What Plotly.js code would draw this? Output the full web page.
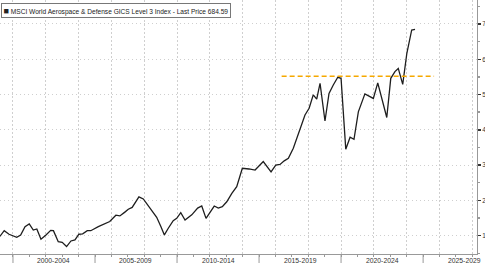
<!DOCTYPE html>
<html>
<head>
<meta charset="utf-8">
<script src="https://cdn.plot.ly/plotly-3.0.1.min.js"></script>
<style>html,body{margin:0;padding:0;background:#fff;}#chart{width:485px;height:263px;}</style>
</head>
<body>
<div id="chart"></div>
<script>
// Index level (hundreds)
const dates = [
'1999-03-15','1999-06-20','1999-10-05','2000-03-25','2000-06-20','2000-09-25','2000-12-28',
'2001-03-28','2001-06-15','2001-09-15','2002-01-05','2002-04-20','2002-06-20','2002-10-05',
'2003-01-01','2003-04-08','2003-07-15','2003-10-12','2004-01-08','2004-04-01','2004-07-12',
'2004-09-28','2005-03-15','2005-11-25','2006-04-10','2006-07-08','2006-10-20','2007-01-12',
'2007-04-08','2007-09-05','2007-12-12','2008-05-08','2008-10-05','2009-01-08','2009-03-25',
'2009-06-20','2009-10-08','2009-12-25','2010-03-25','2010-06-28','2010-11-25','2011-04-05',
'2011-07-05','2011-10-08','2012-01-05','2012-04-08','2012-07-08','2012-10-05','2013-01-12',
'2013-05-05','2013-08-22','2013-12-25','2014-05-22','2014-10-05','2015-04-05','2015-09-25',
'2016-01-08','2016-04-12','2016-07-15','2016-10-15','2017-02-02','2017-05-25','2017-08-08',
'2017-10-20','2018-01-20','2018-04-22','2018-07-08','2018-09-20','2019-01-08','2019-04-08',
'2019-07-12','2019-10-20','2020-01-01','2020-04-15','2020-07-20','2020-10-15','2021-01-20',
'2021-06-15','2021-12-20','2022-03-28','2022-10-15','2023-01-12','2023-04-15','2023-06-28',
'2023-10-05','2024-01-05','2024-04-22','2024-07-05'
];
const values = [
0.98,1.14,1.04,0.955,1.02,1.255,1.33,
1.16,1.19,0.90,1.02,1.15,1.14,0.83,
0.81,0.69,0.85,0.88,1.04,1.05,1.14,
1.14,1.255,1.40,1.58,1.56,1.66,1.75,
1.80,2.10,2.04,1.79,1.52,1.255,1.02,
1.21,1.425,1.49,1.65,1.445,1.59,1.78,
1.84,1.49,1.68,1.84,1.78,1.82,1.96,
2.20,2.39,2.91,2.89,2.86,3.10,2.81,
3.00,3.02,3.12,3.19,3.48,3.90,4.14,
4.42,4.61,4.99,4.87,5.32,4.25,5.03,
5.27,5.49,5.46,3.45,3.79,3.73,4.51,
5.02,4.89,5.33,4.35,5.46,5.65,5.74,
5.29,6.17,6.83,6.85
];
// Dashed reference level
const refDates = ['2016-05-18','2025-09-02'];
const refValues = [5.52,5.52];
// Period labels on the time axis
const periodStarts = [2000,2005,2010,2015,2020,2025];
const periodLabels = ['2000-2004','2005-2009','2010-2014','2015-2019','2020-2024','2025-2029'];
const yTicks = [1,2,3,4,5,6,7];
const legendText = 'MSCI World Aerospace & Defense GICS Level 3 Index - Last Price 684.59';

const FONT = 'Liberation Sans, Arial, sans-serif';
const GRID = '#cfcfcf';

const traces = [
  {x: dates, y: values, type: 'scatter', mode: 'lines',
   line: {color: '#1e1e1e', width: 1.3}, hoverinfo: 'skip'},
  {x: refDates, y: refValues, type: 'scatter', mode: 'lines',
   line: {color: '#f5a800', width: 1.5, dash: '5px,3px'}, hoverinfo: 'skip'}
];

const annotations = periodLabels.map((t, i) => ({
  x: (periodStarts[i] + 2) + '-07-02', xref: 'x', y: 0, yref: 'paper',
  yanchor: 'top', xanchor: 'center', yshift: -0.5, showarrow: false,
  text: t, font: {family: FONT, size: 6.8, color: '#333'}
}));
annotations.push({
  x: 0, xref: 'paper', y: 1, yref: 'paper', xanchor: 'left', yanchor: 'top',
  xshift: 1, yshift: -2.5, showarrow: false, align: 'left',
  text: '<span style="font-size:9px">■</span> ' + legendText,
  font: {family: FONT, size: 6.6, color: '#222'},
  bgcolor: '#fff', bordercolor: '#777', borderwidth: 1, borderpad: 1.5
});

const shapes = periodStarts.map(y => ({
  type: 'line', xref: 'x', yref: 'paper', x0: y + '-01-01', x1: y + '-01-01',
  y0: 0, y1: -0.04, line: {color: '#999', width: 1}
}));

const layout = {
  width: 485, height: 263,
  margin: {l: 0, r: 8, t: 0, b: 9, pad: 0},
  paper_bgcolor: '#fff', plot_bgcolor: '#fff',
  showlegend: false,
  font: {family: FONT, size: 6.5, color: '#333'},
  xaxis: {
    type: 'date', range: ['1999-03-18', '2028-04-15'],
    tick0: '2000-01-01', dtick: 'M24', showticklabels: false,
    ticks: 'outside', ticklen: 2, tickcolor: '#999',
    showgrid: true, gridcolor: GRID, griddash: '1.5px,2.5px', gridwidth: 1,
    showline: true, linecolor: '#999', linewidth: 1, zeroline: false,
    minor: {dtick: 'M12', ticks: 'outside', ticklen: 2, tickcolor: '#999', showgrid: false}
  },
  yaxis: {
    side: 'right', range: [0.48, 7.68], tickvals: yTicks,
    ticks: 'outside', ticklen: 3, tickwidth: 1.5, tickcolor: '#333',
    tickfont: {family: FONT, size: 6.5, color: '#333'},
    showgrid: true, gridcolor: GRID, griddash: '1.5px,2.5px', gridwidth: 1,
    showline: true, linecolor: '#999', linewidth: 1, zeroline: false,
    minor: {dtick: 0.5, ticks: 'outside', ticklen: 2, tickcolor: '#999', showgrid: false}
  },
  annotations: annotations,
  shapes: shapes
};

Plotly.newPlot('chart', traces, layout, {staticPlot: true, displayModeBar: false});
</script>
</body>
</html>
